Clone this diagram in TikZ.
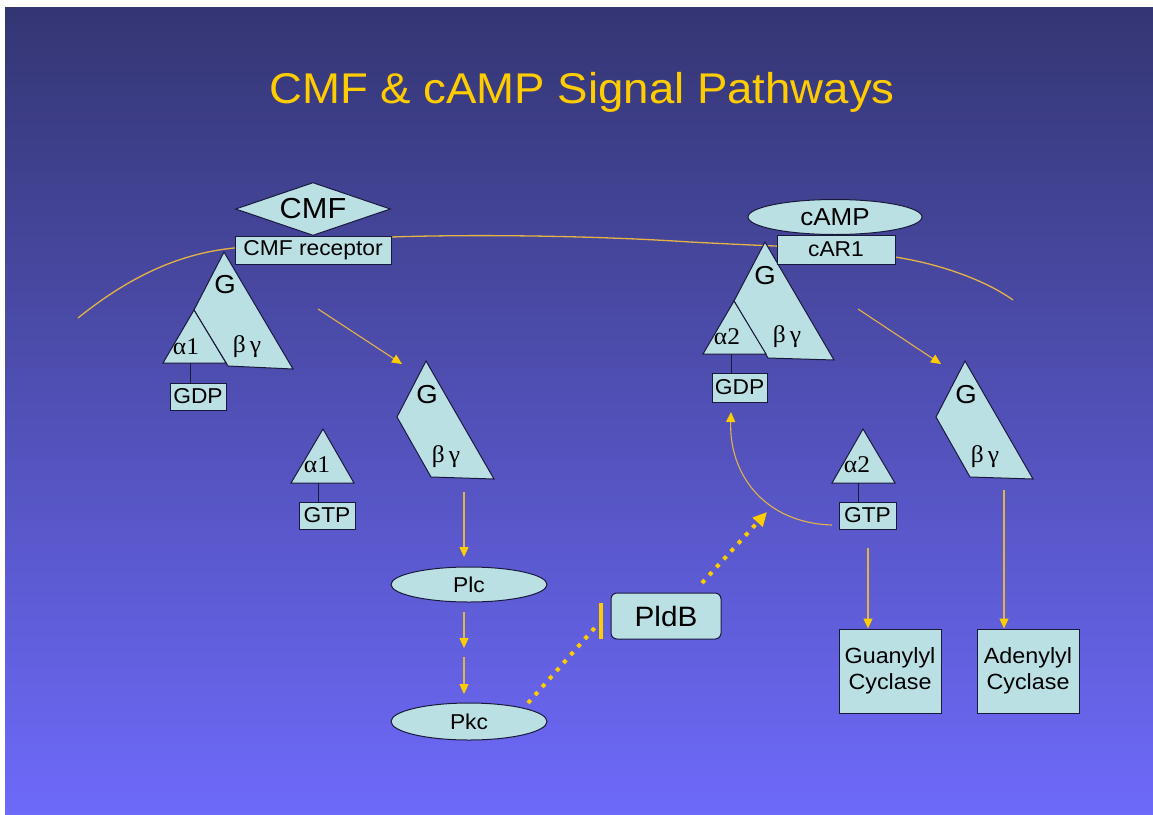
\documentclass[tikz,border=0pt]{standalone}
\usepackage{fontspec}
\setmainfont{Liberation Sans}[FakeStretch=1.06]
\newfontfamily\greek{Liberation Serif}[FakeStretch=1.06]
\usetikzlibrary{shapes.geometric,arrows.meta}
\definecolor{bgtop}{RGB}{52,54,115}
\definecolor{bgbot}{RGB}{110,106,250}
\definecolor{pale}{RGB}{187,224,227}
\definecolor{navy}{RGB}{25,25,60}
\definecolor{gold}{RGB}{255,204,0}
\definecolor{goldline}{RGB}{228,178,70}
\tikzset{
  prot/.style={draw=navy, fill=pale, line width=1pt},
  boxn/.style={prot, rectangle, inner sep=0pt, font=\fontsize{21.5}{24}\selectfont},
  elln/.style={prot, ellipse, inner sep=0pt, font=\fontsize{21.5}{24}\selectfont},
  lbl/.style={inner sep=0pt, text=black},
  glbl/.style={lbl, font=\fontsize{26}{28}\selectfont},
  grk/.style={lbl, font=\greek\fontsize{24}{26}\selectfont},
  sig/.style={draw=goldline, line width=1.1pt, -{Triangle[length=10pt,width=9pt,color=gold]}},
  dots/.style={draw=gold, line width=4pt, dash pattern=on 4pt off 6.7pt},
  link/.style={draw=navy, line width=1pt},
  membrane/.style={draw=goldline, line width=1.3pt},
}
\begin{document}
\begin{tikzpicture}[x=1pt,y=-1pt]
\useasboundingbox (0,0) rectangle (1153,814);
\fill[white] (0,0) rectangle (1153,814);
\shade[top color=bgtop,bottom color=bgbot] (5,7) rectangle (1153,814);

\node[anchor=base, text=gold, inner sep=0pt, font=\fontsize{43}{50}\selectfont] (title) at (582,103) {CMF \& cAMP Signal Pathways};

% membrane
\draw[membrane] (78,318) .. controls (135,272) and (185,253) .. (234,248)
  .. controls (320,241) and (360,238) .. (391,237)
  .. controls (480,234) and (600,236) .. (690,242)
  .. controls (730,244) and (750,245) .. (775,246)
  .. controls (820,250) and (860,253) .. (895,257)
  .. controls (940,264) and (985,280) .. (1013,300);

% left G protein complex
\draw[prot] (224,252) -- (194,310) -- (228,366) -- (293,369) -- cycle;
\draw[prot] (194,310) -- (163,363) -- (226,363) -- cycle;
\node[prot, diamond, aspect=2.92, minimum width=155pt, minimum height=53pt, inner sep=0pt, font=\fontsize{29}{30}\selectfont] (cmf) at (313,209) {CMF};
\node[boxn, minimum width=156pt, minimum height=28pt] (cmfrec) at (313,250) {CMF receptor};
\node[glbl] (g1) at (225,285) {G};
\node[grk] (a1) at (186,347) {α1};
\node[grk] (bg1) at (247,347) {β\,γ};
\node[boxn, minimum width=56pt, minimum height=27pt] (gdp1) at (198,396.5) {GDP};
\coordinate (a1base) at (190,363);
\draw[link] (a1base) -- (a1base |- gdp1.north);

% right G protein complex
\draw[prot] (765,242) -- (734,301) -- (768,358) -- (834,360) -- cycle;
\draw[prot] (734,301) -- (703,354) -- (766,354) -- cycle;
\node[elln, minimum width=174pt, minimum height=35pt, font=\fontsize{24.5}{26}\selectfont] (camp) at (835,217) {cAMP};
\node[boxn, minimum width=118pt, minimum height=29pt] (car1) at (836,249.5) {cAR1};
\node[glbl] (g2) at (765,276) {G};
\node[grk] (a2) at (727,337) {α2};
\node[grk] (bg2) at (787,337) {β\,γ};
\node[boxn, minimum width=55pt, minimum height=29pt] (gdp2) at (739.5,387.5) {GDP};
\coordinate (a2base) at (731,354);
\draw[link] (a2base) -- (a2base |- gdp2.north);

% free alpha1 + GTP
\draw[prot] (323,429) -- (291,483) -- (354,483) -- cycle;
\node[grk] (fa1) at (317,465) {α1};
\node[boxn, minimum width=56pt, minimum height=27pt] (gtp1) at (327,515.5) {GTP};
\coordinate (fa1base) at (318,483);
\draw[link] (fa1base) -- (fa1base |- gtp1.north);

% free alpha2 + GTP
\draw[prot] (863,429) -- (832,483) -- (895,483) -- cycle;
\node[grk] (fa2) at (857,465) {α2};
\node[boxn, minimum width=57pt, minimum height=27pt] (gtp2) at (867.5,515.5) {GTP};
\coordinate (fa2base) at (858,483);
\draw[link] (fa2base) -- (fa2base |- gtp2.north);

% free G beta-gamma left
\draw[prot] (426,361) -- (397,417) -- (431,477) -- (494,479) -- cycle;
\node[glbl] (gb1g) at (427,395) {G};
\node[grk] (gb1bg) at (446,457) {β\,γ};

% free G beta-gamma right
\draw[prot] (965,361) -- (936,417) -- (970,477) -- (1033,479) -- cycle;
\node[glbl] (gb2g) at (966,395) {G};
\node[grk] (gb2bg) at (985,457) {β\,γ};

% effectors
\node[elln, minimum width=156pt, minimum height=35pt] (plc) at (469,584.5) {Plc};
\node[elln, minimum width=156pt, minimum height=37pt] (pkc) at (469,721.5) {Pkc};
\node[prot, rectangle, rounded corners=6pt, minimum width=110pt, minimum height=46pt, inner sep=0pt, font=\fontsize{28}{30}\selectfont] (pldb) at (666,616) {PldB};
\node[boxn, minimum width=102pt, minimum height=84pt, align=center, font=\fontsize{22}{26}\selectfont] (guan) at (890,671) {Guanylyl\\Cyclase};
\node[boxn, minimum width=102pt, minimum height=84pt, align=center, font=\fontsize{22}{26}\selectfont] (aden) at (1028,671) {Adenylyl\\Cyclase};

% signal arrows
\coordinate (g1out) at (318,309);
\coordinate (gb1in) at (402,364);
\draw[sig] (g1out) -- (gb1in);
\coordinate (g2out) at (858,309);
\coordinate (gb2in) at (941,364);
\draw[sig] (g2out) -- (gb2in);

\coordinate (gb1out) at (464,492);
\coordinate (plcin) at (464,557);
\draw[sig] (gb1out) -- (plcin);
\coordinate (plcout) at (464,612);
\coordinate (mid) at (464,648);
\coordinate (mid2) at (464,657);
\coordinate (pkcin) at (464,694);
\draw[sig] (plcout) -- (mid);
\draw[sig] (mid2) -- (pkcin);

\coordinate (gb2out) at (1004,490);
\draw[sig] (gb2out) -- (gb2out |- aden.north);
\coordinate (gtp2out) at (868,548);
\draw[sig] (gtp2out) -- (gtp2out |- guan.north);

\coordinate (gtp2l) at (832,525);
\coordinate (gdp2in) at (731,412);
\draw[sig] (gtp2l) .. controls (765,523) and (729,475) .. (gdp2in);

% PldB inhibition and activation
\coordinate (bartop) at (601,603);
\coordinate (barbot) at (601,639);
\draw[gold, line width=4pt] (bartop) -- (barbot);
\coordinate (pkcout) at (528,703);
\coordinate (barin) at (599,623);
\draw[dots] (pkcout) -- (barin);
\coordinate (pldbout) at (702,583);
\coordinate (gtp2tgt) at (767,512);
\draw[dots, -{Triangle[length=14pt,width=13pt,color=gold]}] (pldbout) -- (gtp2tgt);
\end{tikzpicture}
\end{document}
